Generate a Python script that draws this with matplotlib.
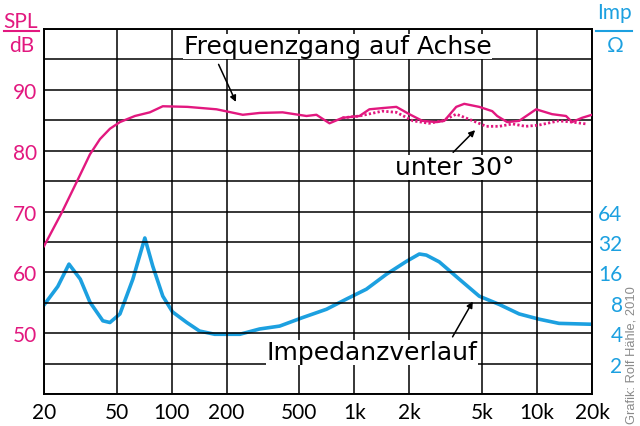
import matplotlib
matplotlib.use('Agg')
import matplotlib.pyplot as plt
from matplotlib.lines import Line2D

# colours of the two quantities
magenta = '#e2187f'
cyan = '#1ca0e0'

# frequency response on axis (Hz, dB)
spl_freq = [20, 25.1, 30.7, 35.7, 40.5, 45.9, 52.1, 62.9, 75.9, 89.4, 122, 176, 245, 303, 405,
            547, 620, 731, 861, 1067, 1209, 1424, 1698, 2000, 2356, 2808, 3107, 3613, 3996,
            4825, 5684, 6053, 6863, 7985, 9886, 12087, 14417, 15550, 17640, 20000]
spl_on = [64.3, 69.9, 75.3, 79.4, 81.9, 83.6, 84.7, 85.7, 86.3, 87.3, 87.2, 86.8, 85.9, 86.2, 86.3,
          85.7, 85.9, 84.5, 85.4, 85.7, 86.8, 87.0, 87.2, 86.0, 84.9, 84.7, 84.9, 87.2, 87.7,
          87.2, 86.5, 85.7, 84.7, 84.9, 86.8, 86.0, 85.7, 84.7, 85.4, 85.9]

# frequency response 30 degrees off axis (only differs above ~1 kHz)
off_freq = [861, 1067, 1424, 1698, 2095, 2565, 3044, 3613, 4470, 5272, 6218, 7336, 8655,
            10218, 13128, 15550, 18530]
spl_off = [85.4, 85.7, 86.5, 86.3, 84.9, 84.5, 84.9, 86.0, 84.9, 84.0, 84.0, 84.4, 84.0,
           84.2, 84.9, 84.7, 84.4]

# impedance (Hz, Ohm)
imp_freq = [20, 23.8, 27.4, 31.6, 35.7, 42.0, 45.9, 52.1, 61.3, 71.3, 78.8, 89.4, 101, 121,
            142, 172, 236, 303, 390, 520, 704, 905, 1164, 1497, 1925, 2268, 2477, 2917,
            3753, 4825, 6208, 7985, 10266, 13200, 20000]
imp_ohm = [7.6, 11.6, 19.3, 13.7, 8.1, 5.3, 5.1, 6.2, 13.7, 35, 18.4, 9.3, 6.5, 5.1,
           4.2, 3.9, 3.9, 4.4, 4.7, 5.7, 6.9, 8.7, 10.9, 15.3, 20.5, 24.3, 23.7, 20.3,
           13.7, 9.3, 7.7, 6.2, 5.5, 5.0, 4.9]

x_ticks = [20, 50, 100, 200, 500, 1000, 2000, 5000, 10000, 20000]
x_labels = ['20', '50', '100', '200', '500', '1k', '2k', '5k', '10k', '20k']
spl_ticks = [50, 60, 70, 80, 90]
imp_ticks = [2, 4, 8, 16, 32, 64]

tick_font = ['Lato', 'DejaVu Sans']

fig = plt.figure(figsize=(6.4, 4.27), dpi=100)
ax = fig.add_axes([44 / 640, 1 - 395 / 427, 548 / 640, 365 / 427])

ax.plot(spl_freq, spl_on, color=magenta, lw=1.7, zorder=3)
ax.plot(off_freq, spl_off, color=magenta, lw=2.0, ls=(0, (0.8, 0.8)), zorder=3)

ax.set_xscale('log')
ax.set_xlim(20, 20000)
ax.set_ylim(40, 100)
ax.set_xticks(x_ticks)
ax.set_xticklabels(x_labels, family=tick_font, fontsize=15)
ax.set_xticks([f * m for m in [10, 100, 1000] for f in range(2, 10)
               if 20 <= f * m <= 20000 and f * m not in x_ticks], minor=True)
ax.set_xticklabels([], minor=True)
ax.set_yticks(spl_ticks)
ax.set_yticklabels([str(v) for v in spl_ticks], family=tick_font, fontsize=15, color=magenta)
ax.set_yticks(range(40, 101, 5), minor=True)
ax.tick_params(which='both', length=0)
ax.tick_params(axis='x', pad=6)
ax.tick_params(axis='y', pad=5)
ax.grid(True, which='both', color='black', lw=1.1)
ax.set_axisbelow(True)
for s in ax.spines.values():
    s.set_linewidth(1.2)

# impedance on its own log2 axis
ax2 = ax.twinx()
ax2.plot(imp_freq, imp_ohm, color=cyan, lw=2.6, zorder=3)
ax2.set_yscale('log', base=2)
ax2.set_ylim(1, 4096)
ax2.set_yticks(imp_ticks)
ax2.set_yticklabels([str(v) for v in imp_ticks], family=tick_font, fontsize=15,
                    color=cyan, ha='right')
ax2.minorticks_off()
ax2.tick_params(length=0, pad=22)
for s in ax2.spines.values():
    s.set_linewidth(1.2)

# annotations
ax.annotate('', xy=(228, 87.6), xytext=(178, 94.6),
            arrowprops=dict(arrowstyle='-|>', color='black', lw=1.1, mutation_scale=9))
ax.text(809, 97.2, 'Frequenzgang auf Achse', ha='center', va='center', fontsize=18,
        family='DejaVu Sans', color='black',
        bbox=dict(facecolor='white', edgecolor='none', pad=0.3))
ax.annotate('', xy=(4700, 83.7), xytext=(3390, 79.4),
            arrowprops=dict(arrowstyle='-|>', color='black', lw=1.1, mutation_scale=9))
ax.text(3567, 77.3, 'unter 30°', ha='center', va='center', fontsize=18,
        family='DejaVu Sans', color='black',
        bbox=dict(facecolor='white', edgecolor='none', pad=0.3))
ax.annotate('', xy=(4530, 55.6), xytext=(3390, 49.0),
            arrowprops=dict(arrowstyle='-|>', color='black', lw=1.1, mutation_scale=9),
            zorder=5)
ax.text(1255, 46.9, 'Impedanzverlauf', ha='center', va='center', fontsize=18,
        family='DejaVu Sans', color='black',
        bbox=dict(facecolor='white', edgecolor='none', pad=0.3))
ax2.set_zorder(ax.get_zorder() - 1)
ax.patch.set_visible(False)

# unit headers above the axes
fig.text(21 / 640, 1 - 28 / 427, 'SPL', ha='center', va='baseline', fontsize=15,
         family=tick_font, color=magenta)
fig.add_artist(Line2D([4 / 640, 39 / 640], [1 - 32 / 427, 1 - 32 / 427], color=magenta, lw=1.5))
fig.text(22 / 640, 1 - 52 / 427, 'dB', ha='center', va='baseline', fontsize=15,
         family=tick_font, color=magenta)
fig.text(614 / 640, 1 - 19 / 427, 'Imp', ha='center', va='baseline', fontsize=15,
         family=tick_font, color=cyan)
fig.add_artist(Line2D([596 / 640, 632 / 640], [1 - 32 / 427, 1 - 32 / 427], color=cyan, lw=1.5))
fig.text(615 / 640, 1 - 52 / 427, '\u03a9', ha='center', va='baseline', fontsize=15,
         family=tick_font, color=cyan)

fig.text(631 / 640, 1 - 355 / 427, 'Grafik: Rolf Hähle, 2010', rotation=90, ha='center',
         va='center', fontsize=9.3, family='Liberation Sans', color='#8a8a8a')

fig.savefig('out.png', dpi=100)
